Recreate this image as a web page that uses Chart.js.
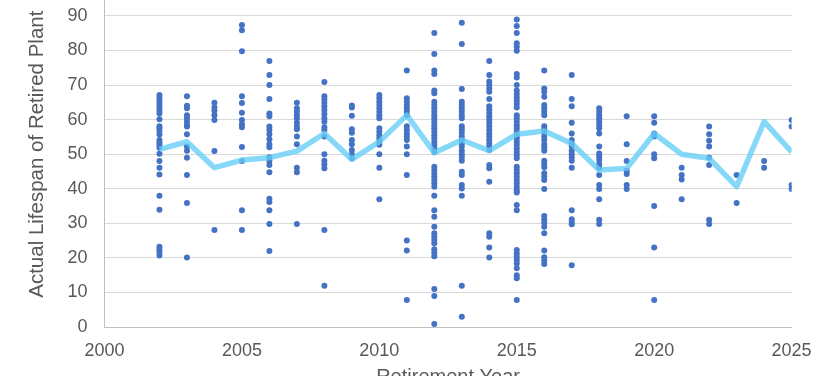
<!DOCTYPE html>
<html>
<head>
<meta charset="utf-8">
<title>Actual Lifespan of Retired Plant</title>
<script src="https://cdn.jsdelivr.net/npm/chart.js@4.4.1/dist/chart.umd.min.js"></script>
<style>
  html, body { margin: 0; padding: 0; background: #fff; overflow: hidden; }
  body { width: 836px; height: 376px; position: relative; }
  #wrap { position: absolute; left: 0; top: -40px; width: 836px; height: 437px; }
</style>
</head>
<body>
<div id="wrap"><canvas id="lifeChart" width="836" height="437"></canvas></div>
<script>
// Retirement years shown on the chart
const retireYears = [2002, 2003, 2004, 2005, 2006, 2007, 2008, 2009, 2010, 2011, 2012, 2013,
  2014, 2015, 2016, 2017, 2018, 2019, 2020, 2021, 2022, 2023, 2024, 2025];

// Lifespan (years) of each retired plant, grouped by retirement year (same order as retireYears)
const lifespans = [
  [67.1, 66.4, 65.7, 64.9, 64.1, 63.4, 62.6, 61.8, 60.1, 58.1, 57.5, 56.7, 55.7, 54.1, 53.3, 52.7, 51.9, 50.1, 48.0, 46.1, 44.1, 38.0, 33.9, 23.2, 22.5, 21.7, 20.7],
  [66.8, 64.0, 63.3, 61.3, 60.4, 59.4, 58.4, 58.0, 55.8, 52.2, 51.0, 49.0, 44.0, 35.9, 20.1],
  [64.9, 63.5, 62.6, 61.3, 59.9, 50.9, 28.1],
  [87.4, 85.9, 79.8, 66.8, 64.8, 62.0, 59.9, 58.7, 57.8, 52.1, 48.0, 33.8, 28.1],
  [77.0, 72.9, 70.0, 66.0, 61.8, 61.0, 58.0, 57.0, 55.8, 54.3, 52.9, 52.0, 49.1, 48.0, 46.9, 44.8, 37.1, 36.2, 33.8, 29.8, 22.0],
  [64.9, 63.3, 62.3, 61.3, 60.4, 59.1, 58.0, 57.2, 55.1, 52.9, 46.1, 44.8, 29.8],
  [70.9, 66.8, 65.9, 64.9, 63.9, 62.8, 61.6, 60.4, 59.4, 57.8, 57.0, 55.1, 50.0, 48.1, 47.1, 45.9, 28.1, 11.9],
  [64.1, 63.5, 61.1, 57.2, 56.2, 54.1, 52.9, 51.2, 50.0, 48.8],
  [67.1, 66.2, 65.2, 64.2, 63.3, 62.3, 61.3, 60.4, 57.5, 56.5, 55.5, 54.6, 53.6, 52.7, 50.0, 46.1, 37.0],
  [74.2, 66.2, 65.2, 64.2, 63.3, 62.3, 61.3, 58.1, 57.0, 56.0, 55.1, 54.1, 52.2, 50.0, 44.0, 25.0, 22.1, 7.8],
  [85.1, 79.0, 74.2, 73.2, 68.4, 67.6, 65.2, 64.2, 63.3, 62.3, 61.3, 60.4, 59.4, 58.4, 57.5, 56.5, 55.5, 54.6, 53.6, 52.7, 51.7, 50.7,
    46.4, 45.4, 44.5, 43.5, 42.5, 41.6, 40.6, 38.0, 33.8, 31.9, 29.0, 27.1, 26.1, 25.2, 24.2, 22.5, 21.5, 20.5, 11.0, 9.0, 0.9],
  [88.0, 81.9, 68.9, 65.2, 64.2, 63.3, 62.3, 61.3, 60.4, 58.1, 57.2, 56.2, 55.1, 54.1, 53.1, 52.2, 51.0, 50.0, 49.1, 48.1, 44.9, 44.0,
    41.1, 40.1, 38.0, 11.9, 3.0],
  [77.0, 72.9, 71.0, 70.0, 69.0, 68.1, 66.0, 63.9, 63.0, 62.0, 61.0, 60.1, 59.1, 58.1, 57.0, 56.0, 55.1, 54.1, 53.1, 52.2, 51.2, 46.9,
    45.9, 42.0, 27.1, 26.1, 23.0, 20.1],
  [89.0, 87.1, 85.1, 82.1, 81.1, 79.9, 73.2, 72.2, 70.0, 68.4, 67.4, 66.4, 65.5, 64.5, 63.5, 61.3, 60.4, 59.4, 58.4, 57.5, 56.5, 55.5,
    54.6, 53.6, 52.7, 51.7, 50.7, 49.8, 48.8, 46.4, 45.4, 44.5, 43.5, 42.5, 41.6, 40.6, 39.6, 38.9, 35.3, 33.8, 22.3, 21.3, 20.3, 19.4,
    18.4, 17.0, 15.0, 14.1, 7.8],
  [74.2, 69.0, 68.1, 66.6, 64.2, 63.3, 62.3, 61.3, 58.1, 57.2, 56.2, 55.1, 54.1, 52.9, 52.0, 51.0, 48.1, 47.2, 46.2, 44.5, 43.5, 42.5,
    39.9, 32.1, 31.1, 30.2, 29.0, 27.1, 22.1, 20.2, 19.2, 18.2],
  [72.9, 66.0, 63.9, 59.1, 56.0, 54.1, 53.1, 52.2, 51.0, 50.0, 49.1, 48.1, 46.1, 33.8, 31.2, 30.4, 29.7, 17.9],
  [63.3, 62.3, 61.3, 60.4, 59.4, 58.4, 57.5, 56.0, 52.2, 50.2, 49.3, 48.3, 47.1, 46.1, 44.0, 41.1, 39.9, 37.0, 31.0, 29.8],
  [61.0, 52.9, 48.0, 45.2, 44.3, 41.1, 39.9],
  [61.0, 59.1, 56.0, 55.1, 50.0, 48.8, 35.0, 23.0, 7.8],
  [46.1, 44.0, 42.7, 37.0],
  [58.0, 55.8, 53.9, 52.2, 49.0, 46.9, 31.0, 29.8],
  [44.0, 35.9],
  [48.0, 46.1],
  [59.9, 58.0, 41.1, 39.9]
];

// Average lifespan per retirement year (the light blue line)
const avgLifespan = [51.4, 53.6, 46.1, 48.3, 49.0, 50.9, 56.0, 48.5, 53.6, 61.3, 50.4, 54.1,
  51.0, 55.8, 56.7, 53.1, 45.4, 45.9, 56.0, 50.0, 48.8, 40.6, 59.4, 50.7];

const xTicks = [2000, 2005, 2010, 2015, 2020, 2025];
const yTicks = [0, 10, 20, 30, 40, 50, 60, 70, 80, 90, 100];

const textColor = '#595959';
const fontFamily = "'Liberation Sans', Arial, sans-serif";

const scatterPoints = [];
retireYears.forEach((yr, i) => {
  lifespans[i].forEach(v => scatterPoints.push({ x: yr, y: v }));
});
const avgPoints = retireYears.map((yr, i) => ({ x: yr, y: avgLifespan[i] }));

const ctx = document.getElementById('lifeChart').getContext('2d');
new Chart(ctx, {
  type: 'scatter',
  data: {
    datasets: [
      {
        label: 'Average',
        type: 'line',
        data: avgPoints,
        borderColor: 'rgba(100, 205, 246, 0.78)',
        borderWidth: 5.5,
        borderJoinStyle: 'round',
        pointRadius: 0,
        fill: false,
        tension: 0,
        order: 0
      },
      {
        label: 'Plants',
        data: scatterPoints,
        backgroundColor: '#4472C4',
        borderWidth: 0,
        pointRadius: 3,
        order: 1
      }
    ]
  },
  options: {
    responsive: false,
    animation: false,
    layout: { padding: { top: 21.4, right: 44.4, bottom: 0, left: 0 } },
    plugins: {
      legend: { display: false },
      tooltip: { enabled: false }
    },
    scales: {
      x: {
        type: 'linear',
        min: 2000,
        max: 2025,
        afterBuildTicks: s => { s.ticks = xTicks.map(v => ({ value: v })); },
        afterFit: s => { s.height = 70; },
        grid: { display: false },
        border: { display: true, color: '#bfbfbf', width: 1 },
        ticks: {
          color: textColor,
          font: { family: fontFamily, size: 18 },
          padding: 5,
          maxRotation: 0,
          callback: v => String(v)
        },
        title: {
          display: true,
          text: 'Retirement Year',
          color: textColor,
          font: { family: fontFamily, size: 20 },
          padding: { top: 0, bottom: 7.4 }
        }
      },
      y: {
        min: 0,
        max: 100,
        afterBuildTicks: s => { s.ticks = yTicks.map(v => ({ value: v })); },
        // fixed axis width; drop the label overflow padding so the plot top sits where the layout padding says
        afterFit: s => { s.width = 104.5; s.paddingTop = 0; s.paddingBottom = 0; },
        grid: { color: '#d9d9d9', lineWidth: 1, drawTicks: false },
        border: { display: true, color: '#bfbfbf', width: 1 },
        ticks: {
          color: textColor,
          font: { family: fontFamily, size: 18 },
          padding: 17
        },
        title: {
          display: true,
          text: 'Actual Lifespan of Retired Plant',
          color: textColor,
          font: { family: fontFamily, size: 20.5 },
          padding: { top: 25.5, bottom: 0 }
        }
      }
    }
  }
});
</script>
</body>
</html>
